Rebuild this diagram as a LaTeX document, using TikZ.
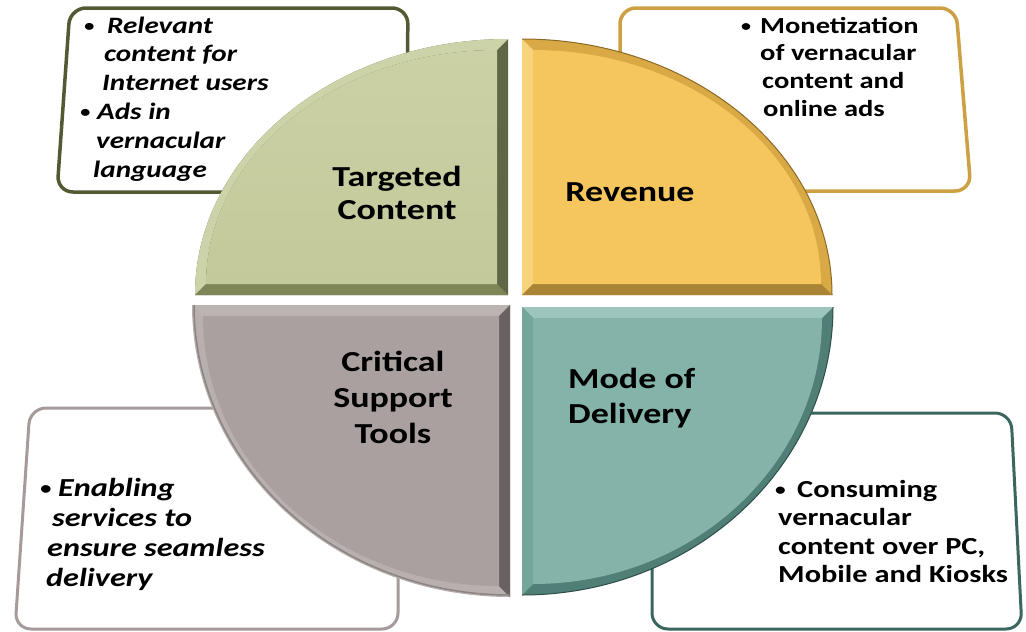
\documentclass[tikz,border=0pt]{standalone}
\usepackage{fontspec}
\usepackage{graphicx}
\setmainfont{Carlito}
\newfontfamily\cf[FakeStretch=1.24]{Carlito}
\newcommand{\bul}{\raisebox{1.5pt}{\scalebox{0.7}{\textbullet}}}
\definecolor{gBase}{HTML}{C3C99A}
\definecolor{gTop}{HTML}{CBD1A5}
\definecolor{gDark}{HTML}{5F6645}
\definecolor{gBot}{HTML}{7E8658}
\definecolor{gArc}{HTML}{CDD3A8}
\definecolor{yBase}{HTML}{F5C65D}
\definecolor{yLeft}{HTML}{F8D27C}
\definecolor{yBot}{HTML}{A98434}
\definecolor{yArc}{HTML}{D9A945}
\definecolor{yLine}{HTML}{8A6A25}
\definecolor{kBase}{HTML}{AAA0A0}
\definecolor{kTop}{HTML}{BCB3B3}
\definecolor{kRight}{HTML}{6A6262}
\definecolor{kArc}{HTML}{B8AFAF}
\definecolor{kLine}{HTML}{8C8484}
\definecolor{tBase}{HTML}{83B3A9}
\definecolor{tTop}{HTML}{9CC6BD}
\definecolor{tLeft}{HTML}{74A69C}
\definecolor{tArc}{HTML}{4F7F77}
\definecolor{tLine}{HTML}{2E4E49}
\definecolor{b1}{HTML}{525A33}
\definecolor{b2}{HTML}{CDA043}
\definecolor{b3}{HTML}{A69A9A}
\definecolor{b4}{HTML}{3B6660}
\tikzset{
  callout/.style={line width=3.5pt, rounded corners=16pt, fill=white},
  lbl/.style={font=\cf\bfseries\fontsize{29}{36}\selectfont, inner sep=0pt},
  txt/.style={font=\cf\bfseries\fontsize{23}{28.5}\selectfont, inner sep=0pt, anchor=base west},
  txti/.style={txt, font=\cf\bfseries\itshape\fontsize{23}{28.8}\selectfont},
}
\begin{document}
\begin{tikzpicture}[x=1pt,y=-1pt]
\useasboundingbox (0,0) rectangle (1026,632);
\fill[white] (0,0) rectangle (1026,632);

% ---------- callout boxes ----------
\coordinate (c1a) at (70,8);  \coordinate (c1b) at (408,8);
\coordinate (c1c) at (406,192); \coordinate (c1d) at (57,192);
\draw[callout, draw=b1] (c1a) -- (c1b) -- (c1c) -- (c1d) -- cycle;

\coordinate (c2a) at (620,8);  \coordinate (c2b) at (956,8);
\coordinate (c2c) at (971,191); \coordinate (c2d) at (620,191);
\draw[callout, draw=b2] (c2a) -- (c2b) -- (c2c) -- (c2d) -- cycle;

\coordinate (c3a) at (30,408);  \coordinate (c3b) at (398,408);
\coordinate (c3c) at (398,629); \coordinate (c3d) at (15,629);
\draw[callout, draw=b3, line width=3pt] (c3a) -- (c3b) -- (c3c) -- (c3d) -- cycle;

\coordinate (c4a) at (652,413);  \coordinate (c4b) at (1011,413);
\coordinate (c4c) at (1022,629); \coordinate (c4d) at (652,629);
\draw[callout, draw=b4, line width=3pt] (c4a) -- (c4b) -- (c4c) -- (c4d) -- cycle;

% ---------- top-left (green) ----------
\fill[gDark] (508,295) -- (195,295) arc[start angle=180,end angle=90,x radius=313pt,y radius=256pt] -- cycle;
\fill[gArc] (195,295) arc[start angle=180,end angle=90,x radius=313pt,y radius=256pt] -- (497,50) arc[start angle=90,end angle=180,x radius=291pt,y radius=234pt] -- cycle;
\fill[gBot] (195,295) -- (508,295) -- (497,284) -- (206,284) -- cycle;
\shade[top color=gTop, bottom color=gBase] (497,284) -- (206,284) arc[start angle=180,end angle=90,x radius=291pt,y radius=234pt] -- cycle;

% ---------- top-right (yellow) ----------
\fill[yArc] (522,295) -- (522,39) arc[start angle=90,end angle=0,x radius=310pt,y radius=256pt] -- cycle;
\fill[yLeft] (522,295) -- (522,39) -- (533,50) -- (533,284) -- cycle;
\fill[yBot] (522,295) -- (832,295) -- (821,284) -- (533,284) -- cycle;
\fill[yBase] (533,284) -- (533,50) arc[start angle=90,end angle=0,x radius=288pt,y radius=234pt] -- cycle;
\draw[yLine, line width=1pt] (522,39) arc[start angle=90,end angle=0,x radius=310pt,y radius=256pt];

% ---------- bottom-left (gray) ----------
\fill[kArc] (510,305) -- (192,305) arc[start angle=180,end angle=270,x radius=318pt,y radius=292pt] -- cycle;
\fill[kTop] (192,305) -- (510,305) -- (499,316) -- (203,316) -- cycle;
\fill[kRight] (510,305) -- (510,597) -- (499,586) -- (499,316) -- cycle;
\fill[kBase] (499,316) -- (203,316) arc[start angle=180,end angle=270,x radius=296pt,y radius=270pt] -- cycle;
\draw[kLine, line width=1.5pt] (194,305) arc[start angle=180,end angle=270,x radius=316pt,y radius=290pt];

% ---------- bottom-right (teal) ----------
\fill[tArc] (522,307) -- (833,307) arc[start angle=0,end angle=-90,x radius=311pt,y radius=288pt] -- cycle;
\fill[tTop] (522,307) -- (833,307) -- (822,318) -- (533,318) -- cycle;
\fill[tLeft] (522,307) -- (522,595) -- (533,584) -- (533,318) -- cycle;
\fill[tBase] (533,318) -- (822,318) arc[start angle=0,end angle=-90,x radius=289pt,y radius=266pt] -- cycle;
\draw[tLine, line width=1pt] (833,307) arc[start angle=0,end angle=-90,x radius=311pt,y radius=288pt];

% ---------- quadrant labels ----------
\node[lbl, anchor=base] (l1) at (397,186) {\begin{tabular}[t]{@{}c@{}}Targeted\\[-3pt]Content\end{tabular}};
\node[lbl, anchor=base] (l2) at (630,201) {Revenue};
\node[lbl, anchor=base] (l3) at (393,371) {\begin{tabular}[t]{@{}c@{}}Critical\\Support\\Tools\end{tabular}};
\node[lbl, anchor=base west] (l4) at (568,388) {\begin{tabular}[t]{@{}l@{}}Mode of\\[-1pt]Delivery\end{tabular}};

% ---------- callout texts ----------
\node[txti, font=\cf\bfseries\itshape\fontsize{23.5}{28.8}\selectfont] (t1) at (84,33) {\begin{tabular}[t]{@{}l@{}}
\makebox[23pt][l]{\bul}Relevant\\
\hspace{20pt}content for\\
\hspace{18pt}Internet users\\
\hspace{-4pt}\makebox[17pt][l]{\bul}Ads in\\
\hspace{12pt}vernacular\\
\hspace{9pt}language\end{tabular}};

\node[txt, font=\cf\bfseries\fontsize{23}{27.7}\selectfont] (t2) at (741,33) {\begin{tabular}[t]{@{}l@{}}
\makebox[19pt][l]{\bul}Monetization\\
\hspace{19pt}of vernacular\\
\hspace{21pt}content and\\
\hspace{22pt}online ads\end{tabular}};

\node[txti, font=\cf\bfseries\itshape\fontsize{26}{30}\selectfont] (t3) at (40,496) {\begin{tabular}[t]{@{}l@{}}
\makebox[18pt][l]{\bul}Enabling\\
\hspace{12pt}services to\\
\hspace{7pt}ensure seamless\\
\hspace{6pt}delivery\end{tabular}};

\node[txt, font=\cf\bfseries\fontsize{24.5}{28.5}\selectfont] (t4) at (775,497) {\begin{tabular}[t]{@{}l@{}}
\makebox[22pt][l]{\bul}Consuming\\
\hspace{3pt}vernacular\\
\hspace{3pt}content over PC,\\
\hspace{3pt}Mobile and Kiosks\end{tabular}};
\end{tikzpicture}
\end{document}
